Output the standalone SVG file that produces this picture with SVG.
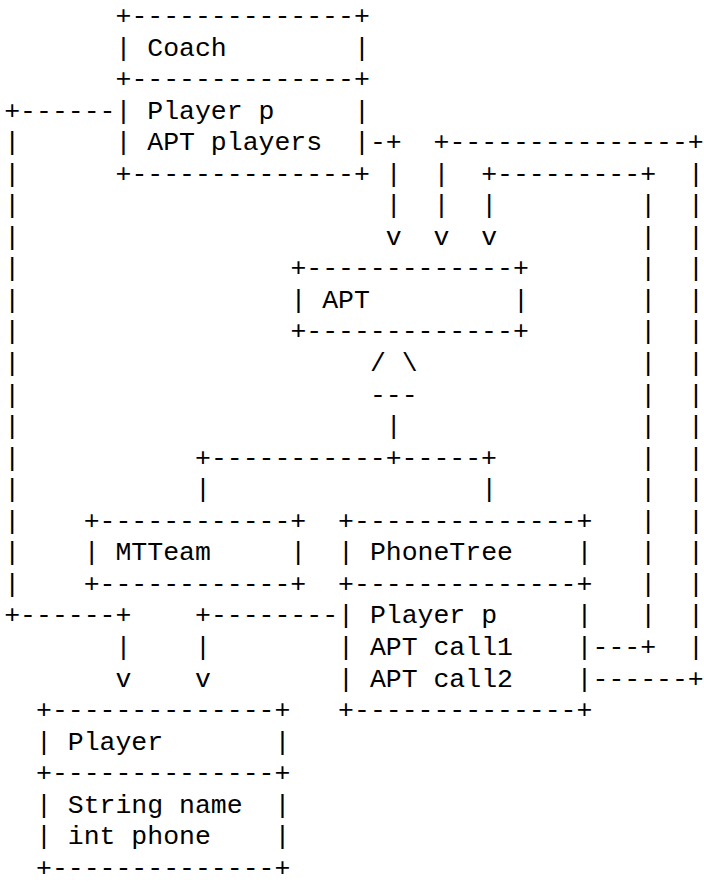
<svg xmlns="http://www.w3.org/2000/svg" width="704" height="884" viewBox="0 0 704 884" xml:space="preserve">
<style>
text { font-family: "Liberation Mono", "Courier New", monospace; font-size: 26.6px; fill: #000; white-space: pre; }
</style>
<rect width="704" height="884" fill="#fff"/>
<g transform="matrix(0.99624 0 0 0.98903 -1.777 -1.22)">
<g id="coach">
<text x="117.72" y="25.5">+--------------+</text>
<text x="117.72" y="57.4">| Coach        |</text>
<text x="117.72" y="89.3">+--------------+</text>
<text x="117.72" y="121.2">| Player p     |</text>
<text x="117.72" y="153.1">| APT players  |</text>
<text x="117.72" y="185.0">+--------------+</text>
</g>
<g id="apt">
<text x="293.28" y="280.7">+-------------+</text>
<text x="293.28" y="312.6">| APT         |</text>
<text x="293.28" y="344.5">+-------------+</text>
</g>
<g id="mtteam">
<text x="85.8" y="535.9">+------------+</text>
<text x="85.8" y="567.8">| MTTeam     |</text>
<text x="85.8" y="599.7">+------------+</text>
</g>
<g id="phonetree">
<text x="341.16" y="535.9">+--------------+</text>
<text x="341.16" y="567.8">| PhoneTree    |</text>
<text x="341.16" y="599.7">+--------------+</text>
<text x="341.16" y="631.6">| Player p     |</text>
<text x="341.16" y="663.5">| APT call1    |</text>
<text x="341.16" y="695.4">| APT call2    |</text>
<text x="341.16" y="727.3">+--------------+</text>
</g>
<g id="player">
<text x="37.92" y="727.3">+--------------+</text>
<text x="37.92" y="759.2">| Player       |</text>
<text x="37.92" y="791.1">+--------------+</text>
<text x="37.92" y="823.0">| String name  |</text>
<text x="37.92" y="854.9">| int phone    |</text>
<text x="37.92" y="886.8">+--------------+</text>
</g>
<g id="connectors">
<!-- Coach.p to Player -->
<text x="6" y="121.2">+------</text>
<text><tspan x="6" y="153.1">|</tspan><tspan x="6" y="185.0">|</tspan><tspan x="6" y="216.9">|</tspan><tspan x="6" y="248.8">|</tspan><tspan x="6" y="280.7">|</tspan><tspan x="6" y="312.6">|</tspan><tspan x="6" y="344.5">|</tspan><tspan x="6" y="376.4">|</tspan><tspan x="6" y="408.3">|</tspan><tspan x="6" y="440.2">|</tspan><tspan x="6" y="472.1">|</tspan><tspan x="6" y="504.0">|</tspan><tspan x="6" y="535.9">|</tspan><tspan x="6" y="567.8">|</tspan><tspan x="6" y="599.7">|</tspan></text>
<text x="6" y="631.6">+------+</text>
<text x="117.72" y="663.5">|</text>
<text x="117.72" y="695.4">v</text>
<!-- Coach.players to APT -->
<text x="373.08" y="153.1">-+</text>
<text><tspan x="389.04" y="185.0">|</tspan><tspan x="389.04" y="216.9">|</tspan><tspan x="389.04" y="248.8">v</tspan></text>
<!-- PhoneTree.call2 to APT -->
<text x="436.92" y="153.1">+---------------+</text>
<text><tspan x="436.92" y="185.0">|</tspan><tspan x="436.92" y="216.9">|</tspan><tspan x="436.92" y="248.8">v</tspan></text>
<text><tspan x="692.28" y="185.0">|</tspan><tspan x="692.28" y="216.9">|</tspan><tspan x="692.28" y="248.8">|</tspan><tspan x="692.28" y="280.7">|</tspan><tspan x="692.28" y="312.6">|</tspan><tspan x="692.28" y="344.5">|</tspan><tspan x="692.28" y="376.4">|</tspan><tspan x="692.28" y="408.3">|</tspan><tspan x="692.28" y="440.2">|</tspan><tspan x="692.28" y="472.1">|</tspan><tspan x="692.28" y="504.0">|</tspan><tspan x="692.28" y="535.9">|</tspan><tspan x="692.28" y="567.8">|</tspan><tspan x="692.28" y="599.7">|</tspan><tspan x="692.28" y="631.6">|</tspan><tspan x="692.28" y="663.5">|</tspan></text>
<text x="596.52" y="695.4">------+</text>
<!-- PhoneTree.call1 to APT -->
<text x="484.8" y="185.0">+---------+</text>
<text><tspan x="484.8" y="216.9">|</tspan><tspan x="484.8" y="248.8">v</tspan></text>
<text><tspan x="644.4" y="216.9">|</tspan><tspan x="644.4" y="248.8">|</tspan><tspan x="644.4" y="280.7">|</tspan><tspan x="644.4" y="312.6">|</tspan><tspan x="644.4" y="344.5">|</tspan><tspan x="644.4" y="376.4">|</tspan><tspan x="644.4" y="408.3">|</tspan><tspan x="644.4" y="440.2">|</tspan><tspan x="644.4" y="472.1">|</tspan><tspan x="644.4" y="504.0">|</tspan><tspan x="644.4" y="535.9">|</tspan><tspan x="644.4" y="567.8">|</tspan><tspan x="644.4" y="599.7">|</tspan><tspan x="644.4" y="631.6">|</tspan></text>
<text x="596.52" y="663.5">---+</text>
<!-- Inheritance -->
<text x="373.08" y="376.4">/ \</text>
<text x="373.08" y="408.3">---</text>
<text x="389.04" y="440.2">|</text>
<text x="197.52" y="472.1">+-----------+-----+</text>
<text x="197.52" y="504.0">|</text>
<text x="484.8" y="504.0">|</text>
<!-- PhoneTree.p to Player -->
<text x="197.52" y="631.6">+--------</text>
<text x="197.52" y="663.5">|</text>
<text x="197.52" y="695.4">v</text>
</g>
</g>
</svg>
